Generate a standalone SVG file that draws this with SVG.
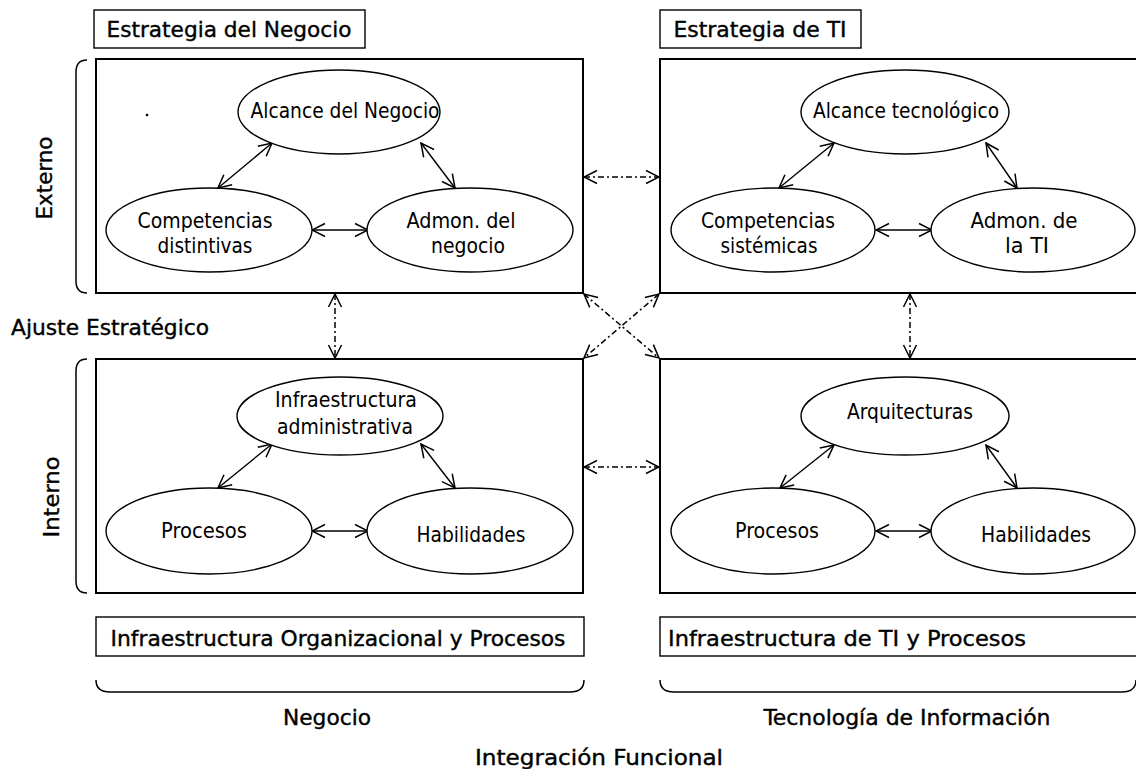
<svg xmlns="http://www.w3.org/2000/svg" width="1136" height="769" viewBox="0 0 1136 769">
<defs>
<style>
.bg{fill:#fff}
.box{fill:none;stroke:#000;stroke-width:2}
.lbl{fill:none;stroke:#000;stroke-width:1.4}
.el{fill:#fff;stroke:#000;stroke-width:1.4}
.brace{fill:none;stroke:#000;stroke-width:1.5}
.t{font-family:"DejaVu Sans Condensed","DejaVu Sans","Liberation Sans",sans-serif;font-size:22px;fill:#000;stroke:#000;stroke-width:0.35;text-anchor:middle}
.e{font-family:"DejaVu Sans Condensed","DejaVu Sans","Liberation Sans",sans-serif;font-size:21px;fill:#000;text-anchor:middle}
.c{fill:none;stroke:#000;stroke-width:1.4;marker-start:url(#ah);marker-end:url(#ah)}
.d{fill:none;stroke:#000;stroke-width:1.5;stroke-dasharray:6 3 2 3;marker-start:url(#ah);marker-end:url(#ah)}
</style>
<marker id="ah" viewBox="0 0 16 16" refX="15" refY="8" markerWidth="16" markerHeight="16" markerUnits="userSpaceOnUse" orient="auto-start-reverse">
<path d="M2,1.5 L15,8 L2,14.5" fill="none" stroke="#000" stroke-width="1.5"/>
</marker>
</defs>
<rect class="bg" x="0" y="0" width="1136" height="769"/>

<g id="label-estrategia-negocio">
<rect class="lbl" x="94" y="10" width="271" height="38"/>
<text class="t" x="229" y="37" textLength="245" lengthAdjust="spacingAndGlyphs">Estrategia del Negocio</text>
</g>
<g id="label-estrategia-ti">
<rect class="lbl" x="660" y="10" width="201" height="38"/>
<text class="t" x="760" y="37" textLength="173" lengthAdjust="spacingAndGlyphs">Estrategia de TI</text>
</g>

<g id="externo">
<path class="brace" d="M87,60 Q76,60 76,72 L76,281 Q76,293 87,293"/>
<text class="t" transform="translate(52,178) rotate(-90)" x="0" y="0" textLength="83" lengthAdjust="spacingAndGlyphs">Externo</text>
</g>
<g id="interno">
<path class="brace" d="M87,359 Q76,359 76,371 L76,581 Q76,593 87,593"/>
<text class="t" transform="translate(59,497) rotate(-90)" x="0" y="0" textLength="81" lengthAdjust="spacingAndGlyphs">Interno</text>
</g>

<g id="box-negocio-externo">
<rect class="box" x="96" y="59" width="487" height="234"/>
<circle cx="147" cy="115" r="1.3" fill="#000"/>
</g>
<g id="box-ti-externo">
<rect class="box" x="660" y="59" width="490" height="234"/>
</g>
<g id="box-negocio-interno">
<rect class="box" x="96" y="359" width="487" height="234"/>
</g>
<g id="box-ti-interno">
<rect class="box" x="660" y="359" width="490" height="234"/>
</g>

<g id="connectors">
<line class="c" x1="218" y1="188" x2="272" y2="143"/>
<line class="c" x1="421" y1="143" x2="455" y2="188"/>
<line class="c" x1="312" y1="230" x2="368" y2="230"/>
<line class="c" x1="779" y1="188" x2="834" y2="143"/>
<line class="c" x1="986" y1="143" x2="1017" y2="188"/>
<line class="c" x1="876" y1="230" x2="932" y2="230"/>
<line class="c" x1="218" y1="488" x2="272" y2="444"/>
<line class="c" x1="421" y1="444" x2="455" y2="488"/>
<line class="c" x1="312" y1="531" x2="368" y2="531"/>
<line class="c" x1="780" y1="488" x2="834" y2="445"/>
<line class="c" x1="986" y1="445" x2="1017" y2="488"/>
<line class="c" x1="876" y1="531" x2="932" y2="531"/>
<line class="d" x1="584" y1="177" x2="659" y2="177"/>
<line class="d" x1="584" y1="467" x2="659" y2="467"/>
<line class="d" x1="335" y1="294" x2="335" y2="358"/>
<line class="d" x1="910" y1="294" x2="910" y2="358"/>
<line class="d" x1="584" y1="294" x2="659" y2="358"/>
<line class="d" x1="659" y1="294" x2="584" y2="358"/>
</g>

<g id="alcance-negocio">
<ellipse class="el" cx="339" cy="112" rx="101" ry="42"/>
<text class="e" x="345" y="118" textLength="189" lengthAdjust="spacingAndGlyphs">Alcance del Negocio</text>
</g>
<g id="competencias-distintivas">
<ellipse class="el" cx="209" cy="230" rx="103" ry="42"/>
<text class="e" x="205" y="228" textLength="135" lengthAdjust="spacingAndGlyphs">Competencias</text>
<text class="e" x="205" y="253" textLength="95" lengthAdjust="spacingAndGlyphs">distintivas</text>
</g>
<g id="admon-negocio">
<ellipse class="el" cx="470" cy="230" rx="103" ry="42"/>
<text class="e" x="461" y="228" textLength="109" lengthAdjust="spacingAndGlyphs">Admon. del</text>
<text class="e" x="468" y="253" textLength="74" lengthAdjust="spacingAndGlyphs">negocio</text>
</g>

<g id="alcance-tecnologico">
<ellipse class="el" cx="905" cy="112" rx="104" ry="42"/>
<text class="e" x="906" y="118" textLength="186" lengthAdjust="spacingAndGlyphs">Alcance tecnológico</text>
</g>
<g id="competencias-sistemicas">
<ellipse class="el" cx="773" cy="230" rx="102" ry="42"/>
<text class="e" x="768" y="228" textLength="134" lengthAdjust="spacingAndGlyphs">Competencias</text>
<text class="e" x="769" y="253" textLength="97" lengthAdjust="spacingAndGlyphs">sistémicas</text>
</g>
<g id="admon-ti">
<ellipse class="el" cx="1033" cy="230" rx="102" ry="42"/>
<text class="e" x="1024" y="228" textLength="107" lengthAdjust="spacingAndGlyphs">Admon. de</text>
<text class="e" x="1027" y="253" textLength="44" lengthAdjust="spacingAndGlyphs">la TI</text>
</g>

<g id="infraestructura-administrativa">
<ellipse class="el" cx="340" cy="416" rx="103" ry="39"/>
<text class="e" x="346" y="407" textLength="142" lengthAdjust="spacingAndGlyphs">Infraestructura</text>
<text class="e" x="345" y="434" textLength="136" lengthAdjust="spacingAndGlyphs">administrativa</text>
</g>
<g id="procesos-negocio">
<ellipse class="el" cx="209" cy="531" rx="103" ry="43"/>
<text class="e" x="204" y="538" textLength="86" lengthAdjust="spacingAndGlyphs">Procesos</text>
</g>
<g id="habilidades-negocio">
<ellipse class="el" cx="470" cy="531" rx="103" ry="43"/>
<text class="e" x="471" y="542" textLength="109" lengthAdjust="spacingAndGlyphs">Habilidades</text>
</g>

<g id="arquitecturas">
<ellipse class="el" cx="905" cy="416" rx="104" ry="39"/>
<text class="e" x="910" y="419" textLength="126" lengthAdjust="spacingAndGlyphs">Arquitecturas</text>
</g>
<g id="procesos-ti">
<ellipse class="el" cx="773" cy="531" rx="102" ry="43"/>
<text class="e" x="777" y="538" textLength="84" lengthAdjust="spacingAndGlyphs">Procesos</text>
</g>
<g id="habilidades-ti">
<ellipse class="el" cx="1033" cy="531" rx="102" ry="43"/>
<text class="e" x="1036" y="542" textLength="110" lengthAdjust="spacingAndGlyphs">Habilidades</text>
</g>

<g id="ajuste-estrategico">
<text class="t" x="110" y="335" textLength="198" lengthAdjust="spacingAndGlyphs">Ajuste Estratégico</text>
</g>

<g id="label-infra-org">
<rect class="lbl" x="96" y="617" width="488" height="39"/>
<text class="t" x="338" y="646" textLength="455" lengthAdjust="spacingAndGlyphs">Infraestructura Organizacional y Procesos</text>
</g>
<g id="label-infra-ti">
<rect class="lbl" x="660" y="617" width="490" height="39"/>
<text class="t" x="847" y="646" textLength="358" lengthAdjust="spacingAndGlyphs">Infraestructura de TI y Procesos</text>
</g>

<g id="negocio">
<path class="brace" d="M96,680 Q96,692 110,692 L570,692 Q584,692 584,680"/>
<text class="t" x="327" y="725" textLength="88" lengthAdjust="spacingAndGlyphs">Negocio</text>
</g>
<g id="tecnologia-informacion">
<path class="brace" d="M660,680 Q660,692 674,692 L1122,692 Q1136,692 1136,680"/>
<text class="t" x="907" y="725" textLength="287" lengthAdjust="spacingAndGlyphs">Tecnología de Información</text>
</g>
<g id="integracion-funcional">
<text class="t" x="599" y="765" textLength="248" lengthAdjust="spacingAndGlyphs">Integración Funcional</text>
</g>
</svg>
